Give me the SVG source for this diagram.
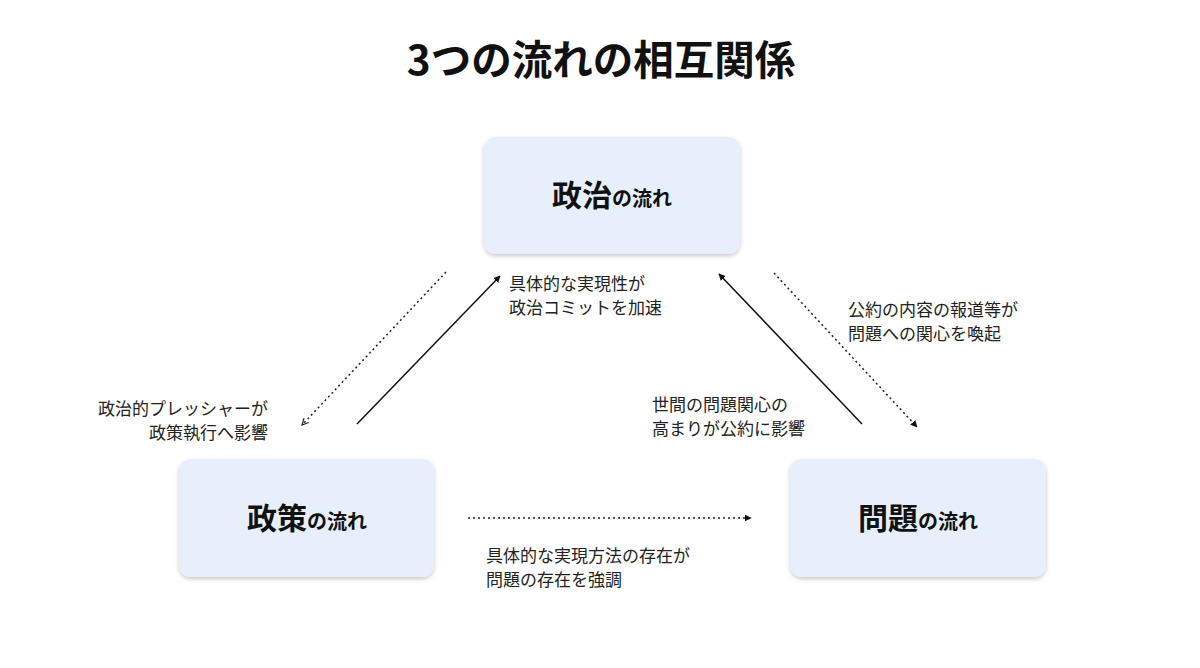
<svg xmlns="http://www.w3.org/2000/svg" width="1200" height="668" viewBox="0 0 1200 668">
<style>
.box{fill:#e7effc;filter:url(#sh);}
.big{font-family:"Noto Sans CJK JP","Noto Sans",sans-serif;font-weight:700;font-size:30px;fill:#111;}
.sm{font-size:20px;}
.lbl{font-family:"Noto Sans CJK JP","Noto Sans",sans-serif;font-size:17px;fill:#222;}
.title{font-family:"Noto Sans CJK JP","Noto Sans",sans-serif;font-weight:700;font-size:40.5px;fill:#111;}
.solid{stroke:#111;stroke-width:1.5;fill:none;}
.dot{stroke:#222;stroke-width:1.5;fill:none;stroke-dasharray:2 3;}
</style>
<defs>
<filter id="sh" x="-10%" y="-10%" width="120%" height="130%">
<feDropShadow dx="0" dy="2" stdDeviation="2" flood-color="#000" flood-opacity="0.22"/>
</filter>
<marker id="tri" viewBox="0 0 10 10" refX="9" refY="5" markerWidth="7" markerHeight="7" markerUnits="userSpaceOnUse" orient="auto">
<path d="M0,0 L10,5 L0,10 z" fill="#111"/>
</marker>
<marker id="open" viewBox="0 0 10 10" refX="9" refY="5" markerWidth="8" markerHeight="8" markerUnits="userSpaceOnUse" orient="auto">
<path d="M1,1 L9,5 L1,9" fill="none" stroke="#222" stroke-width="1.5"/>
</marker>
</defs>
<rect width="1200" height="668" fill="#fff"/>
<text class="title" x="601" y="75" text-anchor="middle">3つの流れの相互関係</text>

<g id="node-politics">
<rect class="box" x="484" y="137" width="256" height="117" rx="12"/>
<text class="big" x="612" y="206" text-anchor="middle">政治<tspan class="sm">の流れ</tspan></text>
</g>
<g id="node-policy">
<rect class="box" x="179" y="459" width="255" height="118" rx="12"/>
<text class="big" x="307" y="529" text-anchor="middle">政策<tspan class="sm">の流れ</tspan></text>
</g>
<g id="node-problem">
<rect class="box" x="790" y="459" width="256" height="118" rx="12"/>
<text class="big" x="918" y="529" text-anchor="middle">問題<tspan class="sm">の流れ</tspan></text>
</g>

<g id="connectors">
<line class="dot" x1="446" y1="272" x2="302" y2="425" marker-end="url(#open)"/>
<line class="solid" x1="357" y1="424" x2="500" y2="276" marker-end="url(#tri)"/>
<line class="solid" x1="862" y1="424" x2="719" y2="274" marker-end="url(#tri)"/>
<line class="dot" x1="774" y1="273" x2="917" y2="427" marker-end="url(#tri)"/>
<line class="dot" x1="468" y1="518" x2="751" y2="518" marker-end="url(#tri)"/>
</g>

<g id="labels">
<text class="lbl" x="509" y="290">具体的な実現性が</text>
<text class="lbl" x="509" y="314">政治コミットを加速</text>
<text class="lbl" x="848" y="316">公約の内容の報道等が</text>
<text class="lbl" x="848" y="340">問題への関心を喚起</text>
<text class="lbl" x="652" y="411">世間の問題関心の</text>
<text class="lbl" x="652" y="435">高まりが公約に影響</text>
<text class="lbl" x="268" y="415" text-anchor="end">政治的プレッシャーが</text>
<text class="lbl" x="268" y="439" text-anchor="end">政策執行へ影響</text>
<text class="lbl" x="486" y="562">具体的な実現方法の存在が</text>
<text class="lbl" x="486" y="586">問題の存在を強調</text>
</g>
</svg>
